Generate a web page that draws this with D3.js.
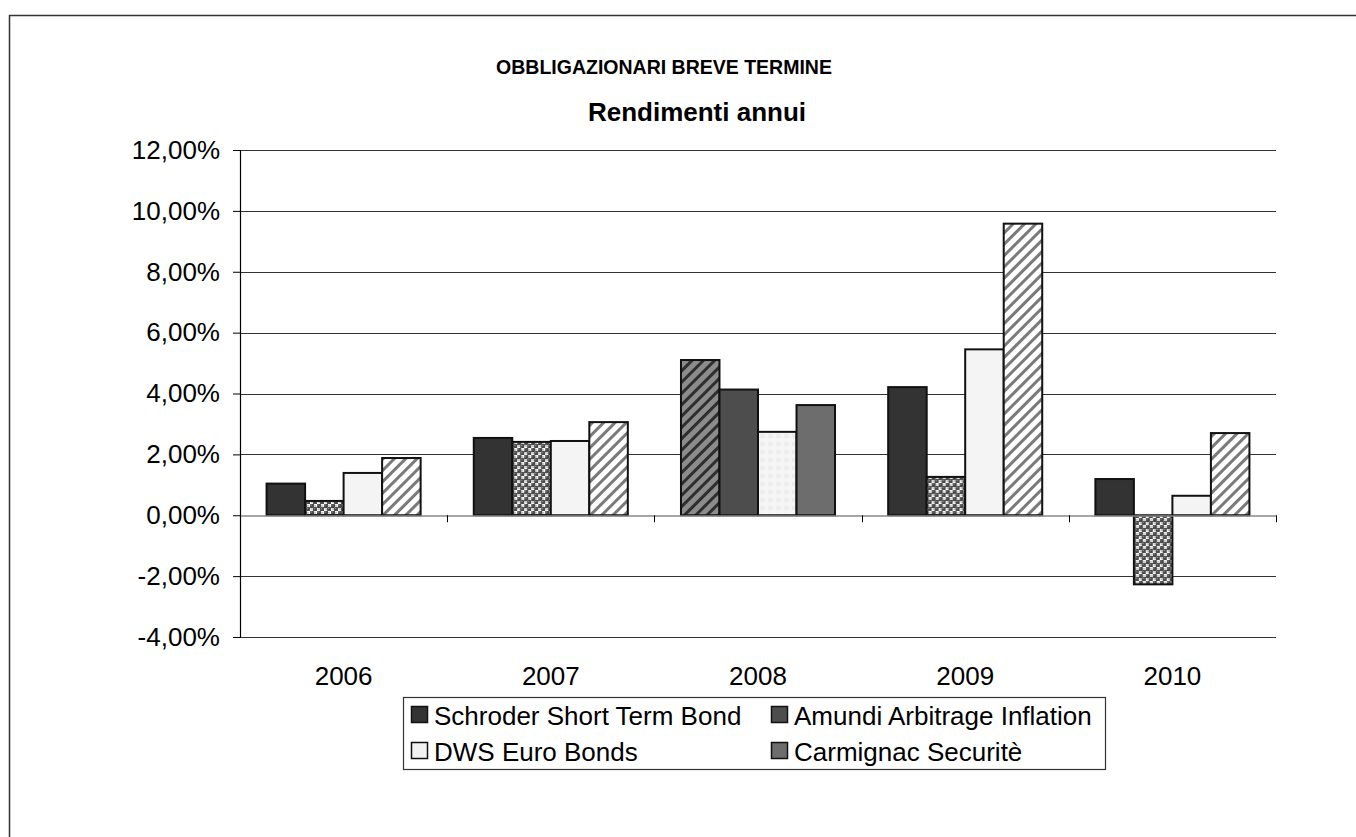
<!DOCTYPE html>
<html>
<head>
<meta charset="utf-8">
<script src="https://cdn.jsdelivr.net/npm/d3@7"></script>
<style>
  html, body { margin: 0; padding: 0; background: #fff; }
  svg { display: block; font-family: "Liberation Sans", Arial, sans-serif; }
</style>
</head>
<body>
<svg id="chart" width="1356" height="837"></svg>
<script>
// ---- data ----
const years = ["2006", "2007", "2008", "2009", "2010"];
const seriesNames = ["Schroder Short Term Bond", "Amundi Arbitrage Inflation", "DWS Euro Bonds", "Carmignac Securitè"];
const schroder  = [0.0104, 0.0254, 0.0510, 0.0421, 0.0119];
const amundi    = [0.0047, 0.0241, 0.0413, 0.0126, -0.0227];
const dws       = [0.0139, 0.0244, 0.0274, 0.0545, 0.0064];
const carmignac = [0.0188, 0.0306, 0.0362, 0.0958, 0.0270];
const yTicks = [-0.04, -0.02, 0, 0.02, 0.04, 0.06, 0.08, 0.10, 0.12];
const titleText = "OBBLIGAZIONARI BREVE TERMINE";
const subtitleText = "Rendimenti annui";

const seriesValues = [schroder, amundi, dws, carmignac];

// ---- styles ----
const defaultFills = ["#333333", "url(#balls)", "#f4f4f4", "url(#stripesLight)"];
const fills2008 = ["url(#stripesDark)", "#4d4d4d", "url(#faint)", "#6d6d6d"];
const legendFills = ["#333333", "#4d4d4d", "#f2f2f2", "#6d6d6d"];

const svg = d3.select("#chart");
const defs = svg.append("defs");

function stripes(id, bg, fg, w) {
  const p = defs.append("pattern").attr("id", id).attr("patternUnits", "userSpaceOnUse")
    .attr("width", 8).attr("height", 8).attr("patternTransform", "rotate(45)");
  p.append("rect").attr("width", 8).attr("height", 8).attr("fill", bg);
  p.append("rect").attr("x", 0).attr("width", w).attr("height", 8).attr("fill", fg);
}
stripes("stripesLight", "#ffffff", "#7a7a7a", 3);
stripes("stripesDark", "#8c8c8c", "#2e2e2e", 3);

const balls = defs.append("pattern").attr("id", "balls").attr("patternUnits", "userSpaceOnUse")
  .attr("width", 7).attr("height", 7);
balls.append("rect").attr("width", 7).attr("height", 7).attr("fill", "#ffffff");
[[1.75, 1.75], [5.25, 5.25]].forEach(([cx, cy]) => {
  balls.append("circle").attr("cx", cx).attr("cy", cy).attr("r", 2.5).attr("fill", "#4a4a4a");
  balls.append("circle").attr("cx", cx - 0.7).attr("cy", cy - 0.7).attr("r", 0.8).attr("fill", "#8a8a8a");
});
balls.append("circle").attr("cx", 5.25).attr("cy", 1.75).attr("r", 1.0).attr("fill", "#c4c4c4");
balls.append("circle").attr("cx", 1.75).attr("cy", 5.25).attr("r", 1.0).attr("fill", "#c4c4c4");

const faint = defs.append("pattern").attr("id", "faint").attr("patternUnits", "userSpaceOnUse")
  .attr("width", 8).attr("height", 8);
faint.append("rect").attr("width", 8).attr("height", 8).attr("fill", "#f6f6f6");
faint.append("circle").attr("cx", 4).attr("cy", 4).attr("r", 2.5).attr("fill", "#ececec");

// ---- frame ----
svg.append("rect").attr("x", 9.5).attr("y", 15.5).attr("width", 1400).attr("height", 900)
  .attr("fill", "none").attr("stroke", "#333").attr("stroke-width", 1.5);

// ---- scales ----
const plot = { left: 240, right: 1276, top: 150, bottom: 637 };
const x = d3.scaleBand().domain(years).range([plot.left, plot.right]).paddingInner(0).paddingOuter(0);
const xs = d3.scaleBand().domain(d3.range(seriesNames.length)).range([0, x.bandwidth()])
  .paddingInner(0).paddingOuter(0.69);
const y = d3.scaleLinear().domain([-0.04, 0.12]).range([plot.bottom, plot.top]);

// gridlines
svg.append("g").selectAll("line").data(yTicks.filter(t => t !== 0)).join("line")
  .attr("x1", plot.left).attr("x2", plot.right)
  .attr("y1", d => Math.round(y(d)) + 0.5).attr("y2", d => Math.round(y(d)) + 0.5)
  .attr("stroke", "#333").attr("stroke-width", 1);

// y axis
const fmt = d => (d < 0 ? "-" : "") + Math.abs(d * 100).toFixed(2).replace(".", ",") + "%";
const yAxis = svg.append("g").attr("transform", `translate(${plot.left},0)`)
  .call(d3.axisLeft(y).tickValues(yTicks).tickFormat(fmt).tickSize(7).tickPadding(13));
yAxis.select(".domain").attr("stroke", "#000").attr("stroke-width", 1.2);
yAxis.selectAll(".tick line").attr("stroke", "#000");
yAxis.selectAll(".tick text").attr("font-size", 26).attr("fill", "#000")
  .attr("font-family", "'Liberation Sans', Arial, sans-serif");

// bars
const groups = svg.append("g").selectAll("g").data(years).join("g")
  .attr("transform", d => `translate(${x(d)},0)`);
groups.each(function(yr, yi) {
  const g = d3.select(this);
  seriesNames.forEach((s, si) => {
    const v = seriesValues[si][yi];
    const fill = yr === "2008" ? fills2008[si] : defaultFills[si];
    g.append("rect")
      .attr("x", xs(si)).attr("width", xs.bandwidth())
      .attr("y", y(Math.max(0, v))).attr("height", Math.abs(y(v) - y(0)))
      .attr("fill", fill).attr("stroke", "#111").attr("stroke-width", 2);
  });
});

// x axis at zero
const xAxis = svg.append("g").attr("transform", `translate(0,${Math.round(y(0)) + 0.5})`)
  .call(d3.axisBottom(x).tickSize(0).tickFormat(""));
xAxis.select(".domain").attr("stroke", "#888").attr("stroke-width", 1.5);
svg.append("g").selectAll("line").data(years.map(d => x(d) + x.bandwidth()).concat([plot.left]))
  .join("line")
  .attr("x1", d => Math.round(d) + 0.5).attr("x2", d => Math.round(d) + 0.5)
  .attr("y1", y(0)).attr("y2", y(0) + 7).attr("stroke", "#000");

// category labels
svg.append("g").selectAll("text").data(years).join("text")
  .attr("x", d => x(d) + x.bandwidth() / 2).attr("y", 685)
  .attr("text-anchor", "middle").attr("font-size", 26).attr("fill", "#000").text(d => d);

// titles
svg.append("text").attr("x", 664).attr("y", 74).attr("text-anchor", "middle")
  .attr("font-weight", "bold").attr("font-size", 19.5).text(titleText);
svg.append("text").attr("x", 697).attr("y", 121).attr("text-anchor", "middle")
  .attr("font-weight", "bold").attr("font-size", 26).text(subtitleText);

// legend
const lg = svg.append("g");
lg.append("rect").attr("x", 403.5).attr("y", 697.5).attr("width", 702).attr("height", 72)
  .attr("fill", "#fff").attr("stroke", "#333").attr("stroke-width", 1.2);
const legPos = [[411, 725], [771, 725], [411, 761], [771, 761]];
seriesNames.forEach((s, i) => {
  const [lx, ly] = legPos[i];
  lg.append("rect").attr("x", lx + 0.5).attr("y", ly - 18.5).attr("width", 16).attr("height", 16)
    .attr("fill", legendFills[i]).attr("stroke", "#111").attr("stroke-width", 1.5);
  lg.append("text").attr("x", lx + 23).attr("y", ly).attr("font-size", 26).attr("fill", "#000").text(s);
});
</script>
</body>
</html>
